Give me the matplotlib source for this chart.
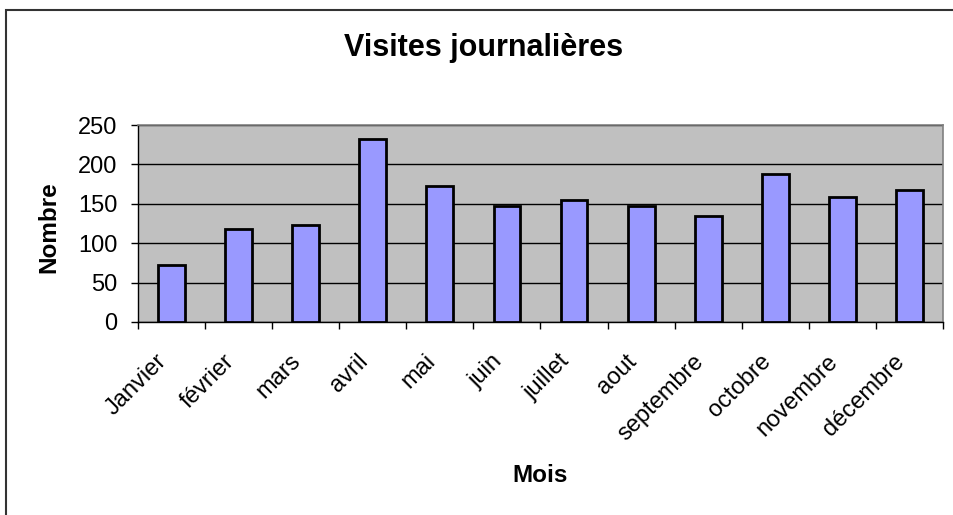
import matplotlib
matplotlib.use("Agg")
import matplotlib.pyplot as plt
import matplotlib.transforms as mtransforms
from matplotlib.patches import Rectangle

# données
mois = ["Janvier", "février", "mars", "avril", "mai", "juin", "juillet",
        "aout", "septembre", "octobre", "novembre", "décembre"]
visites = [72, 118, 123, 232, 173, 147, 155, 147, 135, 188, 158, 168]
y_ticks = [0, 50, 100, 150, 200, 250]

plt.rcParams['font.family'] = ['Liberation Sans', 'DejaVu Sans']

W, H = 954, 515
fig = plt.figure(figsize=(W / 100, H / 100), dpi=100)
fig.patch.set_facecolor('white')

# cadre du graphique (coupé à droite et en bas)
fig.patches.append(Rectangle((6 / W, -0.2), 1.2, 1.2 - 10 / H,
                             transform=fig.transFigure, fill=False,
                             edgecolor='#333333', linewidth=1.5))

ax = fig.add_axes([138 / W, 1 - 322 / H, (943 - 138) / W, (322 - 125) / H])
ax.set_facecolor('#C0C0C0')

x = list(range(len(mois)))
ax.bar(x, visites, width=0.4, color='#9999FF', edgecolor='black',
       linewidth=2, zorder=3)

ax.set_xlim(-0.5, len(mois) - 0.5)
ax.set_ylim(0, 250)
ax.set_yticks(y_ticks)
ax.yaxis.grid(True, color='black', linewidth=1, zorder=1)
ax.set_axisbelow(True)

for side in ['top', 'right']:
    ax.spines[side].set_color('#808080')
    ax.spines[side].set_linewidth(1.2)
for side in ['left', 'bottom']:
    ax.spines[side].set_color('black')
    ax.spines[side].set_linewidth(1)

ax.tick_params(axis='y', direction='out', length=5, width=1,
               labelsize=17, pad=10)

# graduations aux limites des catégories, étiquettes au centre
ax.set_xticks([i - 0.5 for i in range(len(mois) + 1)], minor=True)
ax.tick_params(axis='x', which='minor', direction='out', length=5, width=1)
ax.set_xticks(x)
ax.set_xticklabels(mois, rotation=45, ha='right', va='center',
                   rotation_mode='anchor', fontsize=17)
ax.tick_params(axis='x', which='major', length=0, pad=26)
shift = mtransforms.ScaledTranslation(-8 / 100, 0, fig.dpi_scale_trans)
for lab in ax.get_xticklabels():
    lab.set_transform(lab.get_transform() + shift)

fig.text(484 / W, 1 - 48 / H, "Visites journalières", fontsize=22,
         fontweight='bold', ha='center', va='center')
fig.text(49 / W, 1 - 227 / H, "Nombre", fontsize=17.5, fontweight='bold',
         rotation=90, ha='center', va='center')
fig.text(540 / W, 1 - 476 / H, "Mois", fontsize=17.5, fontweight='bold',
         ha='center', va='center')

fig.savefig("out.png", dpi=100)
